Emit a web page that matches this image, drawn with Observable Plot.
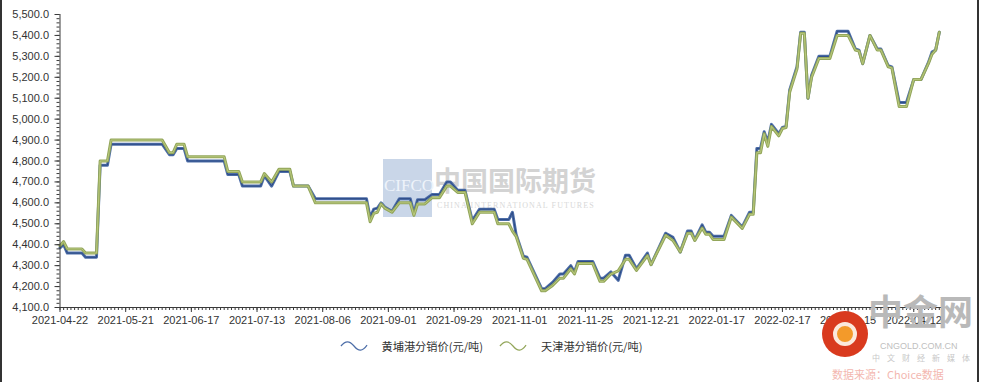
<!DOCTYPE html>
<html><head><meta charset="utf-8">
<script src="https://cdn.jsdelivr.net/npm/d3@7"></script>
<script src="https://cdn.jsdelivr.net/npm/@observablehq/plot@0.6"></script>
<style>
body{margin:0;background:#fff;}
#wrap{position:relative;width:982px;height:382px;overflow:hidden;font-family:"Liberation Sans",Arial,sans-serif;background:#fff;}
#frameL{position:absolute;left:0;top:0;width:2px;height:382px;background:#333;}
#frameR{position:absolute;left:977px;top:0;width:2px;height:382px;background:#333;}
#chart{position:absolute;left:0;top:0;}
#chart svg{background:transparent;}
.wm{position:absolute;white-space:nowrap;}
#cifco{left:383px;top:159px;width:49px;height:58px;background:#c9d6e8;}
#cifcoT{left:384px;top:176px;font-family:"Liberation Serif",serif;font-size:17px;color:#eef3fa;}
#cn1{left:434px;top:160px;font-family:"Noto Sans CJK SC",sans-serif;font-size:27px;font-weight:700;color:#d3d3d3;}
#cn2{left:437px;top:201px;font-family:"Liberation Serif",serif;font-size:8px;color:#d8d8d8;letter-spacing:1.1px;}
#legend{position:absolute;left:0;top:336px;width:982px;height:20px;display:flex;justify-content:center;align-items:center;font-family:"Noto Sans CJK SC",sans-serif;font-size:11.2px;color:#333;}
.li{display:flex;align-items:center;margin:0 8px;}
.li svg{margin-right:14px;}
#logoC{left:822px;top:311px;width:46px;height:46px;border-radius:50%;background:#d93a1e;}
#logoR{left:833px;top:322px;width:16px;height:16px;border-radius:50%;border:4px solid #fbe9dc;background:#f39a2a;}
#logoT{left:868px;top:284px;font-family:"Noto Sans CJK SC",sans-serif;font-size:35px;font-weight:700;color:#b9b9b9;}
#logoE{left:880px;top:341px;font-family:"Liberation Sans",sans-serif;font-size:9px;color:#c0c0c0;}
#logoM{left:872px;top:352px;font-family:"Noto Sans CJK SC",sans-serif;font-size:8px;color:#c8c8c8;letter-spacing:7px;}
#logoS{left:832px;top:366px;font-family:"Noto Sans CJK SC",sans-serif;font-size:11px;color:#f3b7b0;}
</style></head><body>
<div id="wrap">
  <div class="wm" id="cifco"></div>
  <div class="wm" id="cifcoT">CIFCO</div>
  <div class="wm" id="cn1">中国国际期货</div>
  <div class="wm" id="cn2">CHINA INTERNATIONAL FUTURES</div>
  <div id="chart"></div>
  <div id="legend"></div>
  <div class="wm" id="logoC"></div>
  <div class="wm" id="logoR"></div>
  <div class="wm" id="logoT">中金网</div>
  <div class="wm" id="logoE">CNGOLD.COM.CN</div>
  <div class="wm" id="logoM">中文财经新媒体</div>
  <div class="wm" id="logoS">数据来源：Choice数据</div>
  <div id="frameL"></div><div id="frameR"></div>
</div>
<script>
// trading-day index (0 = 2021-04-22) of each reading
const days = [0,1,2,6,7,10,11,13,14,28,30,31,32,34,35,45,46,49,50,55,56,58,60,63,64,68,70,84,85,86,87,88,89,91,93,96,97,98,100,102,104,106,107,109,111,113,115,119,120,123,124,125,127,128,132,133,135,137,138,140,141,142,146,148,149,151,153,155,156,158,161,162,166,168,170,172,173,174,176,177,178,179,182,184,187,189,190,191,192,193,194,195,197,198,199,200,202,203,204,205,206,208,211,213,216,218,219,220,222,224,225,227,228,230,232,234,236,238,239,240,241];
// 黄埔港分销价(元/吨)
const huangpu = [4385,4400,4360,4360,4340,4340,4780,4780,4880,4880,4830,4830,4860,4860,4800,4800,4735,4735,4680,4680,4730,4680,4750,4750,4680,4680,4620,4620,4530,4570,4575,4600,4580,4560,4620,4620,4550,4615,4615,4640,4640,4700,4700,4660,4660,4515,4570,4570,4520,4520,4555,4450,4345,4340,4190,4190,4220,4260,4260,4300,4270,4320,4320,4240,4240,4270,4230,4350,4350,4285,4360,4305,4455,4435,4365,4465,4465,4423,4495,4460,4460,4440,4440,4540,4485,4555,4555,4860,4860,4940,4890,4975,4930,4960,4965,5140,5250,5415,5415,5100,5210,5300,5300,5420,5420,5335,5330,5265,5400,5335,5335,5255,5250,5080,5080,5190,5190,5270,5320,5330,5415];
// 天津港分销价(元/吨)
const tianjin = [4395,4415,4380,4380,4360,4360,4800,4800,4900,4900,4840,4840,4880,4880,4820,4820,4750,4750,4700,4700,4740,4700,4760,4760,4680,4680,4600,4600,4510,4550,4555,4595,4575,4555,4600,4600,4540,4595,4595,4625,4625,4680,4680,4650,4650,4500,4555,4555,4500,4500,4465,4440,4335,4330,4180,4180,4205,4240,4240,4285,4260,4310,4310,4225,4225,4260,4275,4330,4330,4277,4348,4305,4445,4420,4365,4455,4455,4420,4480,4450,4450,4425,4425,4532,4478,4545,4545,4840,4840,4930,4870,4965,4920,4955,4960,5130,5240,5410,5410,5100,5200,5290,5290,5400,5400,5330,5325,5265,5400,5330,5330,5250,5245,5060,5060,5190,5190,5265,5310,5330,5415];
const xTickDays = [0,18,36,54,72,90,108,126,144,162,180,198,216,234];
const xTickLabels = ["2021-04-22","2021-05-21","2021-06-17","2021-07-13","2021-08-06","2021-09-01","2021-09-29","2021-11-01","2021-11-25","2021-12-21","2022-01-17","2022-02-17","2022-03-15","2022-04-12"];
const yTicks = [4100,4200,4300,4400,4500,4600,4700,4800,4900,5000,5100,5200,5300,5400,5500];
const seriesNames = ["黄埔港分销价(元/吨)","天津港分销价(元/吨)"];
const seriesColors = ["#4d6ea8","#93a65a"];
const seriesInner = ["#2c4a86","#b9c97e"];

const hpRows = days.map((d,i)=>({day:d, price:huangpu[i]}));
const tjRows = days.map((d,i)=>({day:d, price:tianjin[i]}));

const axisColor = "#3a3a3a";
const chart = Plot.plot({
  width: 982, height: 330,
  marginLeft: 59.5, marginRight: 37, marginTop: 14, marginBottom: 23,
  x: {domain: [0, 242.7], axis: null, label: null},
  y: {domain: [4100, 5500], axis: null, label: null},
  style: {background: "transparent", fontFamily: "'Liberation Sans', Arial, sans-serif", fontSize: "11px", color: "#333"},
  marks: [
    Plot.line(hpRows, {x: "day", y: "price", stroke: seriesColors[0], strokeWidth: 3}),
    Plot.line(hpRows, {x: "day", y: "price", stroke: seriesInner[0], strokeWidth: 1}),
    Plot.line(tjRows, {x: "day", y: "price", stroke: seriesColors[1], strokeWidth: 3}),
    Plot.line(tjRows, {x: "day", y: "price", stroke: seriesInner[1], strokeWidth: 1}),
    Plot.axisX(d3.range(0, 243), {tickSize: 3, tickFormat: () => "", stroke: axisColor, label: null}),
    Plot.axisX(xTickDays, {tickSize: 5, tickPadding: 4, stroke: axisColor, fill: "#333", label: null,
      tickFormat: d => xTickLabels[xTickDays.indexOf(d)]}),
    Plot.axisY(d3.range(4100, 5501, 20), {tickSize: 3, tickFormat: () => "", stroke: axisColor, label: null}),
    Plot.axisY(yTicks, {tickSize: 5, tickPadding: 6, stroke: axisColor, fill: "#333", tickFormat: ",.1f", label: null}),
    Plot.ruleX([0], {stroke: axisColor}),
    Plot.ruleY([4100], {stroke: axisColor})
  ]
});
document.getElementById("chart").appendChild(chart);

const legend = document.getElementById("legend");
seriesNames.forEach((name, i) => {
  const item = document.createElement("div");
  item.className = "li";
  item.innerHTML = `<svg width="28" height="12" viewBox="0 0 30 12"><path d="M1,6 C6,0 10,0 15,6 S24,12 29,5" fill="none" stroke="${seriesColors[i]}" stroke-width="1.3"/></svg><span>${name}</span>`;
  legend.appendChild(item);
});
</script>
</body></html>
